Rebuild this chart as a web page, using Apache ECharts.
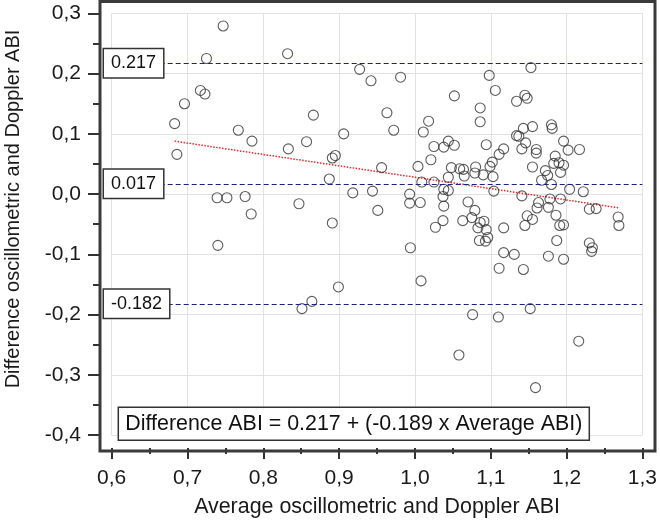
<!DOCTYPE html>
<html>
<head>
<meta charset="utf-8">
<script src="https://cdn.jsdelivr.net/npm/echarts@6/dist/echarts.min.js"></script>
<style>html,body{margin:0;padding:0;background:#fff}#c{width:660px;height:523px}</style>
</head>
<body>
<div id="c"></div>
<script>
// Average oscillometric and Doppler ABI (x) for each subject
const avgABI = [
  0.747,0.725,0.832,0.717,0.723,0.696,0.683,0.767,0.785,0.686,
  0.833,0.739,0.752,0.776,0.784,0.740,
  0.927,0.942,0.981,1.052,0.866,0.963,1.018,0.972,1.011,0.906,
  0.857,1.044,1.025,1.038,1.052,0.895,0.891,1.021,0.956,1.004,
  1.048,1.059,1.064,0.887,1.009,1.025,1.044,0.918,0.944,0.993,
  1.007,0.993,0.847,0.951,0.891,0.994,0.899,1.008,0.864,0.851,
  1.076,1.058,1.159,1.216,1.152,1.110,1.111,1.143,1.117,1.131,
  1.176,1.196,1.187,1.230,1.234,1.233,1.268,1.269,1.230,1.239,
  1.117,1.145,1.155,1.148,1.161,1.163,1.176,1.186,1.191,1.196,
  1.063,1.075,1.079,1.070,1.083,1.091,1.086,1.094,1.096,1.085,
  1.093,1.153,1.098,1.106,1.134,1.145,1.148,1.086,1.086,1.180,
  1.181,1.143,1.155,1.134,1.137,1.094,1.146,1.141,1.160,1.160,
  1.196,1.202,1.217,1.117,1.111,1.102,1.099,1.080,1.079,1.090,
  1.103,1.155,1.185,1.183,1.190,1.196,1.192,1.172,1.175,1.167,
  1.180,1.204,1.222,1.104,1.141,1.178,1.192,1.038,1.044,1.037,
  1.038,1.037,1.027,1.065
];
// Difference oscillometric - Doppler ABI (y) for each subject
const diffABI = [
  0.279,0.225,0.233,0.172,0.166,0.150,0.117,0.106,0.088,0.066,
  0.075,-0.006,-0.006,-0.004,-0.033,-0.085,
  0.207,0.188,0.194,0.163,0.131,0.135,0.121,0.106,0.103,0.100,
  0.087,0.088,0.079,0.078,0.081,0.064,0.060,0.057,0.044,0.046,
  0.044,0.042,0.041,0.025,0.020,0.020,0.028,0.002,0.005,0.000,
  -0.014,-0.015,-0.016,-0.027,-0.048,-0.089,-0.154,-0.144,-0.178,-0.190,
  -0.200,-0.267,-0.321,-0.244,-0.190,-0.204,-0.123,-0.125,-0.097,-0.100,
  -0.103,-0.108,-0.077,-0.081,-0.089,-0.095,-0.038,-0.052,-0.025,-0.024,
  -0.056,-0.052,-0.042,-0.036,-0.023,-0.014,-0.022,-0.035,-0.052,-0.051,
  -0.044,-0.039,-0.027,-0.013,-0.056,-0.045,-0.047,-0.059,-0.072,-0.077,
  -0.078,0.210,0.197,0.172,0.154,0.164,0.159,0.143,0.120,0.115,
  0.109,0.109,0.112,0.097,0.096,0.082,0.085,0.075,0.074,0.068,
  0.088,0.073,0.074,0.075,0.066,0.053,0.046,0.045,0.035,0.032,
  0.029,0.045,0.063,0.051,0.052,0.048,0.036,0.039,0.031,0.023,
  0.016,0.008,0.004,0.005,-0.003,-0.008,-0.008,0.008,0.006,-0.004,
  -0.020,-0.044,-0.055,0.030
];
// Mean difference and limits of agreement
const limitValues = [0.217, 0.017, -0.182];
const limitLabels = ['0.217', '0.017', '-0.182'];
// Regression of difference on average
const regIntercept = 0.217;
const regSlope = -0.189;
const regText = 'Difference ABI = 0.217 + (-0.189 x Average ABI)';
// Axis tick labels
const xTickLabels = ['0,6','0,7','0,8','0,9','1,0','1,1','1,2','1,3'];
const yTickLabels = ['-0,4','-0,3','-0,2','-0,1','0,0','0,1','0,2','0,3'];
const xTitle = 'Average oscillometric and Doppler ABI';
const yTitle = 'Difference oscillometric and Doppler ABI';

const FONT = "'Liberation Sans', Arial, sans-serif";
const points = avgABI.map((x, i) => [x, diffABI[i]]);
const xLo = Math.min(...avgABI), xHi = Math.max(...avgABI);
const regLine = [[xLo, regIntercept + regSlope * xLo], [xHi, regIntercept + regSlope * xHi]];
const X_MIN = 0.6, X_MAX = 1.3, Y_MIN = -0.4, Y_MAX = 0.3;

const chart = echarts.init(document.getElementById('c'), null, {renderer: 'canvas'});
const tickStyle = {color: '#333', width: 2};
chart.setOption({
  animation: false,
  backgroundColor: '#fff',
  title: {
    text: regText,
    left: 118.3, top: 407.3,
    padding: [6, 7],
    borderColor: '#333', borderWidth: 1.5, backgroundColor: '#fff',
    textStyle: {fontSize: 21.4, fontWeight: 'normal', color: '#111', fontFamily: FONT, lineHeight: 21.4},
    z: 10
  },
  grid: [
    {left: 111.7, right: 13.3, top: 13.3, bottom: 84.8},
    {left: 100, right: 5, top: 1.5, bottom: 72, show: true, borderColor: '#3a3a3a', borderWidth: 3, backgroundColor: 'transparent', z: 5}
  ],
  xAxis: [
    {
      gridIndex: 0, type: 'value', min: X_MIN, max: X_MAX, interval: 0.1, offset: 12.8,
      axisLine: {show: false, onZero: false},
      axisTick: {show: true, length: 11, lineStyle: tickStyle},
      minorTick: {show: true, splitNumber: 2, length: 6, lineStyle: tickStyle},
      splitLine: {show: true, lineStyle: {color: '#e2e2e2', width: 1}},
      axisLabel: {margin: 20, fontSize: 21, color: '#1a1a1a', fontFamily: FONT,
        formatter: v => xTickLabels[Math.round((v - X_MIN) * 10)]},
      name: xTitle, nameLocation: 'middle', nameGap: 49,
      nameTextStyle: {fontSize: 21.4, color: '#1a1a1a', fontFamily: FONT}
    },
    {gridIndex: 1, type: 'value', show: false, min: 0, max: 1}
  ],
  yAxis: [
    {
      gridIndex: 0, type: 'value', min: Y_MIN, max: Y_MAX, interval: 0.1, offset: 11.7,
      axisLine: {show: false, onZero: false},
      axisTick: {show: true, length: 12, lineStyle: tickStyle},
      minorTick: {show: true, splitNumber: 2, length: 7, lineStyle: tickStyle},
      splitLine: {show: true, lineStyle: {color: '#e2e2e2', width: 1}},
      axisLabel: {margin: 19, fontSize: 21, color: '#1a1a1a', fontFamily: FONT,
        formatter: v => yTickLabels[Math.round((v - Y_MIN) * 10)]}
    },
    {gridIndex: 1, type: 'value', show: false, min: 0, max: 1}
  ],
  graphic: [{
    type: 'text', x: 13, y: 209, rotation: Math.PI / 2, z: 10,
    style: {text: yTitle, fontSize: 20, fontFamily: FONT, fill: '#1a1a1a',
      align: 'center', verticalAlign: 'middle', textAlign: 'center', textVerticalAlign: 'middle'}
  }],
  series: [
    {
      type: 'line', xAxisIndex: 0, yAxisIndex: 0, data: regLine, symbol: 'none', silent: true,
      lineStyle: {color: '#e8282a', width: 1.5, type: [1.5, 1.5]}, z: 2
    },
    {
      type: 'scatter', xAxisIndex: 0, yAxisIndex: 0, data: points, symbol: 'circle', symbolSize: 10,
      itemStyle: {color: 'rgba(255,255,255,0)', borderColor: '#333', borderWidth: 1.1},
      emphasis: {disabled: true}, z: 3,
      markLine: {
        silent: true, symbol: ['none', 'none'], animation: false,
        lineStyle: {color: '#1e1e8c', width: 1.2, type: [5, 3]},
        label: {
          show: true, position: 'start', align: 'left', verticalAlign: 'middle', distance: 7.7,
          fontSize: 18, lineHeight: 18, color: '#111', fontFamily: FONT,
          backgroundColor: '#fff', borderColor: '#333', borderWidth: 1.5, padding: [5, 7]
        },
        data: limitValues.map((v, i) => [
          {coord: [X_MIN, v], label: {formatter: limitLabels[i]}},
          {coord: [X_MAX, v]}
        ])
      }
    }
  ]
});
</script>
</body>
</html>
